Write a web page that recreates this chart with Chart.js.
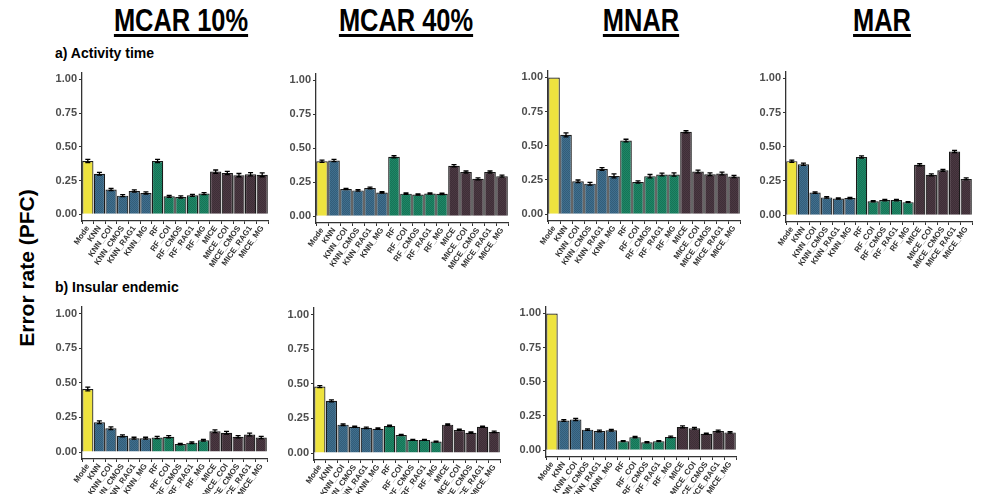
<!DOCTYPE html>
<html>
<head>
<meta charset="utf-8">
<script src="https://cdn.jsdelivr.net/npm/chart.js@4/dist/chart.umd.min.js"></script>
<style>
  body { margin:0; background:#fff; width:982px; height:494px; position:relative; overflow:hidden; font-family:"Liberation Sans", Arial, sans-serif; }
  canvas { position:absolute; }
  .title { position:absolute; top:3px; font-weight:bold; font-size:31px; text-decoration:underline; text-decoration-thickness:3px; text-underline-offset:3px; transform:translateX(-50%) scaleX(0.82); white-space:nowrap; color:#000; }
  .sub { position:absolute; left:55px; font-weight:bold; font-size:14px; color:#000; }
  .ylab { position:absolute; left:27px; top:268px; font-weight:bold; font-size:21px; transform:translate(-50%,-50%) rotate(-90deg); white-space:nowrap; }
</style>
</head>
<body>
<div class="title" style="left:181px">MCAR 10%</div>
<div class="title" style="left:406px">MCAR 40%</div>
<div class="title" style="left:641px">MNAR</div>
<div class="title" style="left:882px">MAR</div>
<div class="sub" style="top:45px">a) Activity time</div>
<div class="sub" style="top:279px">b) Insular endemic</div>
<div class="ylab">Error rate (PFC)</div>

<canvas id="c1"></canvas>
<canvas id="c2"></canvas>
<canvas id="c3"></canvas>
<canvas id="c4"></canvas>
<canvas id="c5"></canvas>
<canvas id="c6"></canvas>
<canvas id="c7"></canvas>

<script>
var methods = ['Mode','KNN','KNN_COI','KNN_CMOS','KNN_RAG1','KNN_MG','RF','RF_COI','RF_CMOS','RF_RAG1','RF_MG','MICE','MICE_COI','MICE_CMOS','MICE_RAG1','MICE_MG'];
var groups = ['mode','knn','knn','knn','knn','knn','rf','rf','rf','rf','rf','mice','mice','mice','mice','mice'];
var yTicks = [0, 0.25, 0.5, 0.75, 1];

// a) Activity time
var act_mcar10 = [0.395,0.30,0.183,0.138,0.172,0.158,0.395,0.133,0.128,0.140,0.153,0.316,0.306,0.290,0.297,0.292];
var act_mcar40 = [0.405,0.410,0.200,0.190,0.208,0.175,0.437,0.166,0.160,0.167,0.165,0.372,0.325,0.275,0.325,0.295];
var act_mnar   = [1.000,0.580,0.240,0.223,0.330,0.280,0.538,0.235,0.278,0.290,0.290,0.602,0.312,0.292,0.297,0.276];
var act_mar    = [0.395,0.372,0.165,0.130,0.122,0.125,0.425,0.102,0.110,0.110,0.095,0.368,0.295,0.328,0.465,0.265];
// b) Insular endemic
var ins_mcar10 = [0.455,0.215,0.172,0.117,0.100,0.100,0.105,0.110,0.058,0.068,0.086,0.150,0.140,0.110,0.127,0.105];
var ins_mcar40 = [0.480,0.377,0.205,0.190,0.182,0.176,0.196,0.130,0.095,0.095,0.083,0.205,0.167,0.147,0.190,0.153];
var ins_mnar   = [1.000,0.217,0.225,0.150,0.140,0.145,0.066,0.095,0.058,0.066,0.097,0.170,0.160,0.120,0.140,0.130];

// standard errors
var err_act_mcar10 = [0.012,0.010,0.008,0.007,0.008,0.008,0.012,0.007,0.008,0.008,0.008,0.012,0.012,0.012,0.012,0.014];
var err_act_mcar40 = [0.008,0.008,0.005,0.005,0.006,0.005,0.008,0.005,0.005,0.005,0.005,0.008,0.008,0.007,0.008,0.007];
var err_act_mnar   = [0,0.014,0.010,0.010,0.010,0.014,0.010,0.008,0.012,0.010,0.012,0.008,0.010,0.010,0.010,0.008];
var err_act_mar    = [0.008,0.008,0.006,0.005,0.005,0.005,0.008,0.004,0.005,0.005,0.004,0.008,0.007,0.007,0.008,0.007];
var err_ins_mcar10 = [0.014,0.010,0.010,0.007,0.007,0.007,0.008,0.008,0.005,0.006,0.006,0.010,0.010,0.008,0.010,0.008];
var err_ins_mcar40 = [0.007,0.007,0.006,0.005,0.005,0.005,0.005,0.004,0.003,0.003,0.003,0.005,0.005,0.005,0.005,0.005];
var err_ins_mnar   = [0,0.007,0.008,0.006,0.006,0.006,0.004,0.005,0.004,0.004,0.005,0.007,0.006,0.005,0.007,0.006];

var baseColors = { mode:'#eee33f', knn:'#3f6f8f', rf:'#1d8867', mice:'#4b3842' };

function makePattern(color, plain) {
  var p = document.createElement('canvas');
  p.width = 2; p.height = 2;
  var g = p.getContext('2d');
  g.fillStyle = color;
  g.fillRect(0, 0, 2, 2);
  if (!plain) {
    g.fillStyle = 'rgba(0,0,0,0.16)';
    g.fillRect(0, 0, 1, 1);
    g.fillRect(1, 1, 1, 1);
  }
  return p;
}

var errBars = {
  id: 'errBars',
  afterDatasetsDraw: function (chart, args, opts) {
    var ctx = chart.ctx;
    var meta = chart.getDatasetMeta(0);
    var ys = chart.scales.y;
    var vals = chart.data.datasets[0].data;
    ctx.save();
    ctx.strokeStyle = '#000';
    ctx.lineWidth = 1.3;
    meta.data.forEach(function (bar, i) {
      var e = opts.errs[i];
      if (!e) return;
      var x = bar.x;
      var y1 = ys.getPixelForValue(vals[i] + e);
      var y2 = ys.getPixelForValue(vals[i] - e);
      ctx.beginPath();
      ctx.moveTo(x, y1); ctx.lineTo(x, y2);
      ctx.moveTo(x - 2.5, y1); ctx.lineTo(x + 2.5, y1);
      ctx.moveTo(x - 2.5, y2); ctx.lineTo(x + 2.5, y2);
      ctx.stroke();
    });
    ctx.restore();
  }
};

var yW = 36, xH = 50, padTop = 6, padRight = 4;

function panel(id, left, top, w, h, values, errs) {
  var cv = document.getElementById(id);
  var ctx = cv.getContext('2d');
  var fills = groups.map(function (g) { return ctx.createPattern(makePattern(baseColors[g], g == 'mode'), 'repeat'); });
  cv.style.left = (left - yW) + 'px';
  cv.style.top = (top - padTop) + 'px';
  cv.width = w + yW + padRight;
  cv.height = h + padTop + xH;
  new Chart(ctx, {
    type: 'bar',
    data: {
      labels: methods,
      datasets: [{
        data: values,
        backgroundColor: fills,
        borderColor: '#1a1a1a',
        borderWidth: 1.2,
        barPercentage: 0.97,
        categoryPercentage: 1
      }]
    },
    options: {
      responsive: false,
      animation: false,
      layout: { padding: { top: padTop, right: padRight, left: 0, bottom: 0 } },
      plugins: { legend: { display: false }, tooltip: { enabled: false }, errBars: { errs: errs } },
      scales: {
        x: {
          afterFit: function (s) { s.height = xH; },
          grid: { display: true, drawOnChartArea: false, drawTicks: true, tickLength: 3, color: '#333' },
          border: { display: true, color: '#333', width: 1.3 },
          ticks: { autoSkip: false, maxRotation: 55, minRotation: 55, padding: 0, color: '#333',
                   font: { family: 'Liberation Sans, Arial', size: 8, weight: 'bold' } }
        },
        y: {
          min: -0.05, max: 1.05,
          afterFit: function (s) { s.width = yW; },
          afterBuildTicks: function (s) { s.ticks = yTicks.map(function (v) { return { value: v }; }); },
          grid: { display: true, drawOnChartArea: false, drawTicks: true, tickLength: 3, color: '#333' },
          border: { display: true, color: '#333', width: 1.3 },
          ticks: { padding: 2, color: '#4d4d4d', callback: function (v) { return Number(v).toFixed(2); },
                   font: { family: 'Liberation Sans, Arial', size: 11, weight: 'bold' } }
        }
      }
    },
    plugins: [errBars]
  });
}

panel('c1', 82, 70, 186, 151, act_mcar10, err_act_mcar10);
panel('c2', 316, 71, 192, 152, act_mcar40, err_act_mcar40);
panel('c3', 548, 68, 192, 153, act_mnar, err_act_mnar);
panel('c4', 786, 69, 186, 153, act_mar, err_act_mar);
panel('c5', 82, 304, 185, 155, ins_mcar10, err_ins_mcar10);
panel('c6', 314, 305, 186, 155, ins_mcar40, err_ins_mcar40);
panel('c7', 546, 304, 190, 153, ins_mnar, err_ins_mnar);
</script>
</body>
</html>
